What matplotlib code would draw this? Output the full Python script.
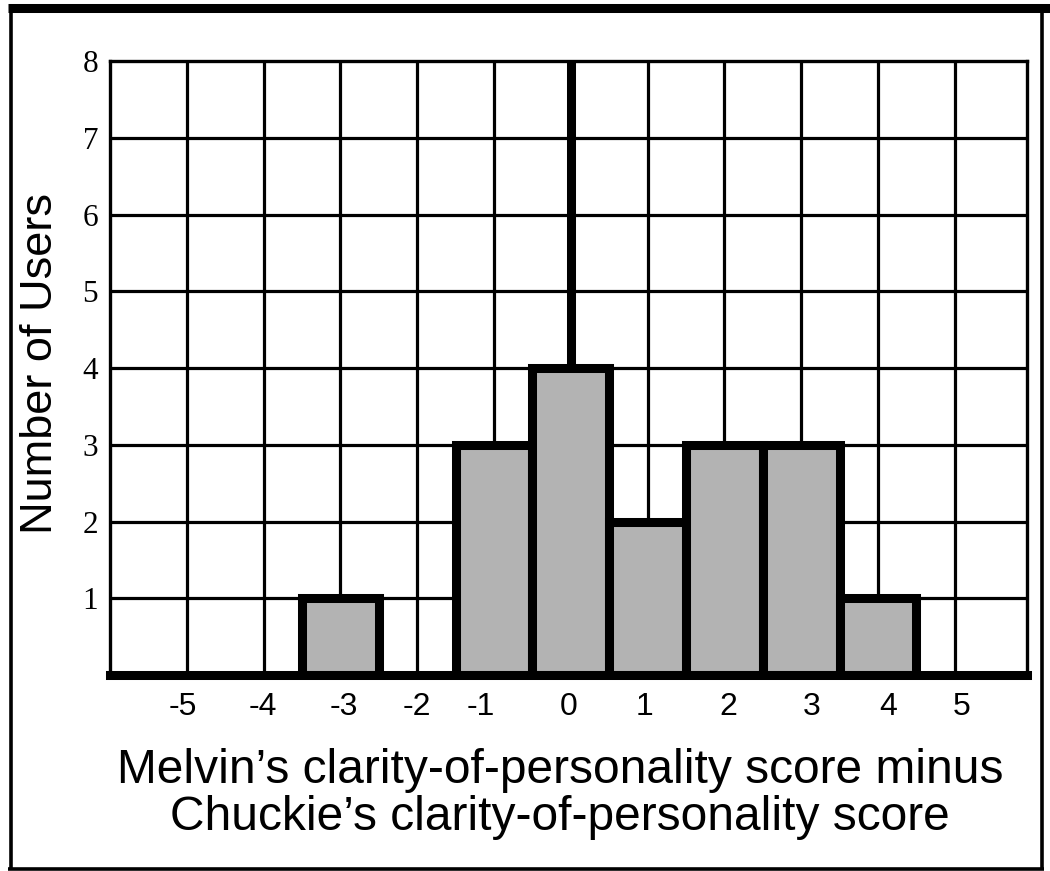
import matplotlib
matplotlib.use("Agg")
import matplotlib.pyplot as plt
from matplotlib.lines import Line2D
from matplotlib.transforms import ScaledTranslation

# ---- data ----
scores = [-3, -1, 0, 1, 2, 3, 4]
counts = [1, 3, 4, 2, 3, 3, 1]
x_ticks = [-5, -4, -3, -2, -1, 0, 1, 2, 3, 4, 5]
x_tick_labels = ["-5", "-4", "-3", "-2", "-1", "0", "1", "2", "3", "4", "5"]
y_ticks = [1, 2, 3, 4, 5, 6, 7, 8]
y_tick_labels = ["1", "2", "3", "4", "5", "6", "7", "8"]
x_label_lines = ["Melvin\u2019s clarity-of-personality score minus",
                 "Chuckie\u2019s clarity-of-personality score"]
y_label = "Number of Users"

# small hand-set nudges (pixels) of tick label text, as in the original layout
x_label_nudge_px = [-4, -1, 3, 0, -13, -2, -3, 4, 10, 10, 7]

W, H = 1050, 871
fig = plt.figure(figsize=(W / 100, H / 100), dpi=100)
fig.patch.set_facecolor("white")

L, R, T, B = 110, 1027, 61, 675
ax = fig.add_axes([L / W, 1 - B / H, (R - L) / W, (B - T) / H])
ax.set_xlim(-6, 5.94)
ax.set_ylim(0, 8)

# grid
for v in x_ticks:
    ax.axvline(v, color="black", lw=6.5 if v == 0 else 2.3, zorder=1,
               solid_capstyle="butt")
for h in y_ticks[:-1]:
    ax.axhline(h, color="black", lw=2.3, zorder=1, solid_capstyle="butt")

# bars
bars = ax.bar(scores, counts, width=1.0, color="#b3b3b3", edgecolor="black",
              linewidth=6.5, zorder=3)
for b in bars:
    b.set_joinstyle("miter")

# spines
for s in ["top", "left", "right"]:
    ax.spines[s].set_linewidth(2.4)
    ax.spines[s].set_color("black")
ax.spines["bottom"].set_linewidth(6.5)
ax.spines["bottom"].set_capstyle("projecting")
ax.spines["bottom"].set_zorder(5)

ax.set_xticks(x_ticks)
ax.set_xticklabels(x_tick_labels, fontfamily="Liberation Sans", fontsize=23)
ax.set_yticks(y_ticks)
ax.set_yticklabels(y_tick_labels, fontfamily="Liberation Serif", fontsize=22.5)
ax.tick_params(axis="x", length=0, pad=12)
ax.tick_params(axis="y", length=0, pad=8.5)

for lab, dx in zip(ax.get_xticklabels(), x_label_nudge_px):
    lab.set_transform(lab.get_transform() +
                      ScaledTranslation(dx / 100, 0, fig.dpi_scale_trans))

# axis labels
fig.text(40 / W, 1 - 364 / H, y_label, rotation=90, ha="center", va="center",
         fontfamily="Liberation Sans", fontsize=32.5)
fig.text(560 / W, 1 - 783 / H, x_label_lines[0], ha="center", va="baseline",
         fontfamily="Liberation Sans", fontsize=34.5)
fig.text(560 / W, 1 - 830 / H, x_label_lines[1], ha="center", va="baseline",
         fontfamily="Liberation Sans", fontsize=34.5)

# outer frame
def fl(x0, y0, x1, y1, lw):
    fig.add_artist(Line2D([x0 / W, x1 / W], [1 - y0 / H, 1 - y1 / H],
                          transform=fig.transFigure, color="black", lw=lw,
                          solid_capstyle="butt"))

fl(8, 8.5, 1050, 8.5, 6.5)      # top thick
fl(10.5, 4, 10.5, 870, 2.6)     # left
fl(8, 868.5, 1044, 868.5, 2.6)  # bottom
fl(1042, 12, 1042, 870, 2.6)    # right

fig.savefig("out.png", dpi=100, facecolor="white")
